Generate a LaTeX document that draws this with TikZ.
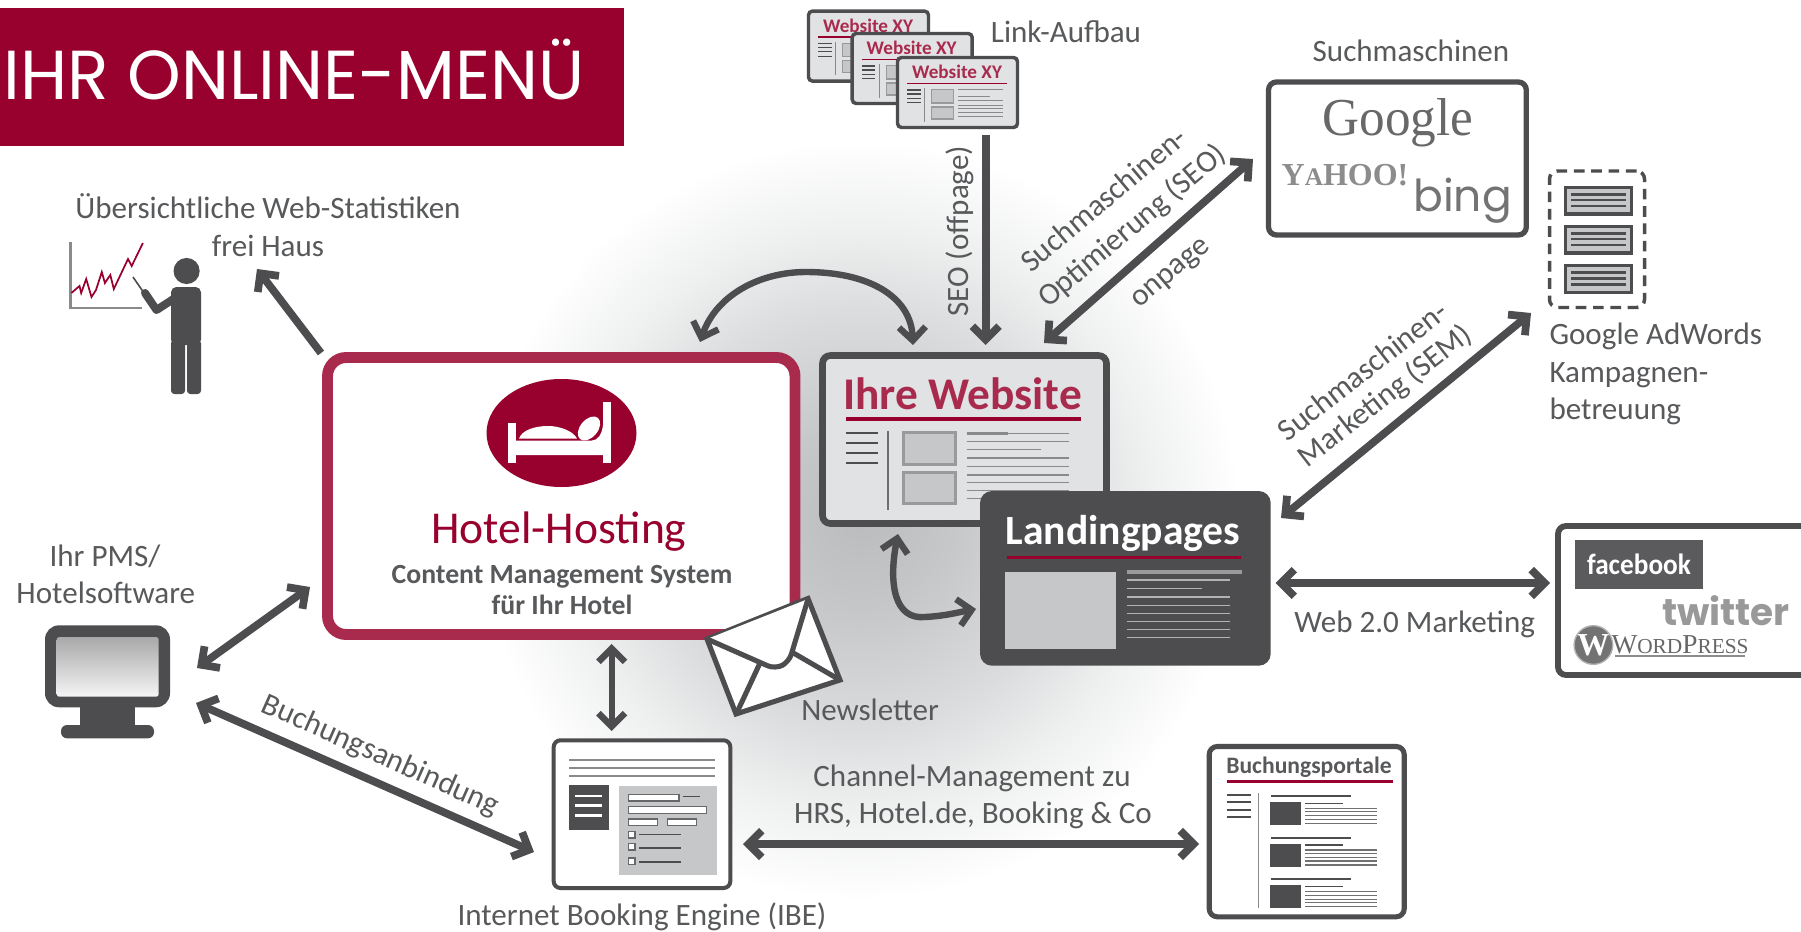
\documentclass[tikz,border=0pt]{standalone}
\usepackage{fontspec}
\setmainfont{Carlito}
\newfontfamily\serifx{Liberation Serif}
\newfontfamily\popp{Poppins}
\usetikzlibrary{arrows.meta,shapes.geometric}
\definecolor{dark}{HTML}{4D4D4F}
\definecolor{txt}{HTML}{58595B}
\definecolor{wine}{HTML}{98002E}
\definecolor{rasp}{HTML}{A82B4E}
\definecolor{paper}{HTML}{E1E2E4}
\definecolor{block}{HTML}{C6C7C9}
\definecolor{blockb}{HTML}{9A9A9C}
\definecolor{ruleg}{HTML}{8A8A8C}
\definecolor{sh0}{HTML}{BBBCBE}
\definecolor{sh1}{HTML}{C6C7C9}
\definecolor{sh2}{HTML}{DCDDDE}
\definecolor{sh3}{HTML}{EEEFEF}
\pgfdeclareradialshading{glow}{\pgfpoint{0bp}{0bp}}{color(0bp)=(sh0); color(6bp)=(sh1); color(14bp)=(sh2); color(19bp)=(sh3); color(25bp)=(white); color(50bp)=(white)}
\newcommand\lbl{\fontsize{23.3}{27}\selectfont}
\newcommand\pxbox[6]{\node[#2,inner sep=0pt,outer sep=0pt,minimum width={((#5)-(#3))*0.75pt},minimum height={((#6)-(#4))*0.75pt},anchor=north west] (#1) at (#3,#4) {};}
\newcommand\hl[4]{\draw[#4] (#1,#3) -- (#2,#3);}
\tikzset{
  lab/.style={text=txt,font=\lbl,anchor=base,inner sep=0pt,outer sep=0pt,yshift=-0.9pt},
  barb/.tip={Straight Barb[length=10pt,width=20pt]},
  arw/.style={draw=dark,line width=5.8pt,miter limit=10},
  arwthin/.style={draw=dark,line width=4.8pt},
}
% one small "Website XY" card, placed by its offset from the front card
\newcommand\webcard[3]{%
\begin{scope}[shift={(#2,#3)}]
\pxbox{#1}{draw=dark,fill=paper,line width=2.6pt,rounded corners=3pt}{897.5}{57.5}{1017.5}{127.5}
\node[text=rasp,font=\fontsize{14.4}{18}\selectfont\bfseries,anchor=base,inner sep=0pt] (#1t) at (957,79) {Website XY};
\hl{907}{1007}{83.3}{wine,line width=1.1pt}
\foreach \yy in {90,94,98.3,102.7}{\hl{907.3}{920.7}{\yy}{dark,line width=0.9pt}}
\draw[ruleg,line width=0.8pt] (924.7,88.3) -- (924.7,121.7);
\draw[blockb,fill=block,line width=0.8pt] (931.5,89.8) rectangle (953.5,103);
\draw[blockb,fill=block,line width=0.8pt] (931.5,107) rectangle (953.5,119);
\foreach \yy in {89.3,100.7,105,108.3,112.7,116.7}{\hl{958.3}{1002.7}{\yy}{ruleg,line width=0.6pt}}
\hl{958.3}{990}{96.7}{ruleg,line width=0.6pt}
\end{scope}}
\begin{document}
\begin{tikzpicture}[x=0.75pt,y=-0.75pt]
\useasboundingbox (0,0) rectangle (1801,931);
\fill[white] (0,0) rectangle (1801,931);
\clip (0,0) rectangle (1801,931);
% glow
\shade[shading=glow] (860,520) circle[radius=285pt];
% title
\fill[wine] (0,8) rectangle (624,146);
\node[text=white,font=\popp\fontsize{52}{60}\selectfont,xscale=0.985,anchor=base,inner sep=0pt] (title) at (294,99) {IHR ONLINE-MENÜ};
% statistics figure
\node[lab] (statsA) at (268,217) {Übersichtliche Web-Statistiken};
\node[lab] (statsB) at (268,255) {frei Haus};
\draw[ruleg,line width=1.6pt] (70.5,242) -- (70.5,308) -- (142,308);
\draw[wine,line width=1.3pt] (71.4,293)--(79.5,286)--(81.2,293)--(86.2,279)--(91.5,297)--(96,290)--(101.8,272)--(104.9,283)--(110.3,275)--(113.8,289)--(128,259)--(131.7,266)--(142.9,243);
\fill[dark] (186.6,271) circle[radius=9.8pt];
\fill[dark,rounded corners=4pt] (171,345) -- (171,287) -- (201,287) -- (201,345) -- cycle;
\fill[dark,rounded corners=2.5pt] (171,340) rectangle (185,394);
\fill[dark,rounded corners=2.5pt] (187,340) rectangle (201,394);
\draw[dark,line width=6pt,line join=round,line cap=round] (175,298) -- (156.5,310) -- (145,293);
\draw[dark,line width=1.2pt] (144,293) -- (133,277);
\coordinate (statsEnd) at (257,269);
\coordinate (hotelNW) at (321,353);
\draw[arw,-{barb}] (hotelNW) -- (statsEnd);
% Link-Aufbau
\node[lab] (linkA) at (1066,41.7) {Link-Aufbau};
\webcard{cardA}{-89}{-46.4}
\webcard{cardB}{-45.3}{-24}
\webcard{cardC}{0}{0}
% Suchmaschinen
\node[lab] (smTitle) at (1411,60) {Suchmaschinen};
\pxbox{search}{draw=dark,fill=white,line width=4pt,rounded corners=6pt}{1268.5}{82}{1526.3}{235}
\node[text=dark!85,font=\serifx\fontsize{40}{44}\selectfont,xscale=0.96,anchor=base,inner sep=0pt] (google) at (1398,135) {Google};
\node[text=black!45,font=\serifx\bfseries\fontsize{24}{28}\selectfont,anchor=base,inner sep=0pt] (yahoo) at (1345,185) {Y{\fontsize{19}{22}\selectfont A}HOO!};
\node[text=black!55,font=\popp\fontsize{33}{36}\selectfont,anchor=base,inner sep=0pt] (bing) at (1462.5,211) {bing};
% AdWords
\pxbox{adwords}{draw=dark,line width=2.6pt,dash pattern=on 8pt off 5pt,rounded corners=6pt}{1549.5}{171}{1644.5}{307.5}
\foreach \yy in {186,225,264.3}{
  \draw[dark,fill=block,line width=2.4pt] (1565.5,\yy+1.5) rectangle (1631.3,\yy+28);
  \foreach \dd in {8.3,14,20}{\draw[dark,line width=1.8pt] (1571,\yy+\dd) -- (1626.4,\yy+\dd);}
}
\node[lab,anchor=base west] (adA) at (1549.5,343) {Google AdWords};
\node[lab,anchor=base west] (adB) at (1549.5,381.7) {Kampagnen-};
\node[lab,anchor=base west] (adC) at (1549.5,418) {betreuung};
% Ihre Website
\pxbox{site}{draw=dark,fill=paper,line width=5pt,rounded corners=6pt}{822.5}{355.5}{1106.5}{523.5}
\node[text=rasp,font=\fontsize{34}{40}\selectfont\bfseries,anchor=base,inner sep=0pt] (siteT) at (962.5,409) {Ihre Website};
\hl{846}{1081}{419}{wine,line width=2.6pt}
\foreach \yy in {433,443,453,463}{\hl{846}{877.7}{\yy}{dark,line width=2.2pt}}
\draw[ruleg!80!black,line width=1.6pt] (888,431) -- (888,510);
\draw[blockb,fill=block,line width=2.2pt] (903.2,432.5) rectangle (955.2,464.5);
\draw[blockb,fill=block,line width=2.2pt] (903.2,472.2) rectangle (955.2,503.5);
\foreach \yy in {433.3,441.3,458,466.7,475,482.7,490.7,498.3}{\hl{966.7}{1069}{\yy}{ruleg,line width=1pt}}
\hl{966.7}{1040.7}{449.7}{ruleg,line width=1pt}
\hl{966.7}{1008}{433.3}{ruleg,line width=2.4pt}
% Landingpages
\pxbox{landing}{fill=dark,rounded corners=9pt}{980}{491}{1270.7}{665.7}
\node[text=white,font=\fontsize{31.2}{38}\selectfont\bfseries,anchor=base,inner sep=0pt] (landingT) at (1123,544.5) {Landingpages};
\hl{1007}{1241}{557.7}{wine,line width=2.6pt}
\fill[block] (1005,572) rectangle (1116,649);
\hl{1127}{1241.7}{572}{blockb,line width=2.4pt}
\foreach \yy in {580,597,605.3,613.7,621.7,629.3,637.3}{\hl{1127}{1230}{\yy}{black!30,line width=1pt}}
\hl{1127}{1201.7}{588.7}{black!30,line width=1pt}
% Hotel box
\pxbox{hotel}{draw=rasp,fill=white,line width=8.2pt,rounded corners=14pt}{327.5}{357.5}{795}{634.5}
\fill[wine] (561.5,433) ellipse[x radius=56.25pt,y radius=40.5pt];
\fill[white] (508,423) rectangle (516,463);
\fill[white] (603,402) rectangle (611,463);
\fill[white] (516,440.5) -- (592,440.5) .. controls (598,440.5) and (602,434) .. (603,425) -- (603,455) -- (516,455) -- cycle;
\fill[white] (519,438.5) .. controls (522,430) and (535,426) .. (548,426) .. controls (560,426) and (573,431) .. (577,438.5) -- cycle;
\fill[white,rotate around={50:(589,428.5)}] (589,428.5) ellipse[x radius=10.4pt,y radius=6.6pt];
\node[text=wine,font=\fontsize{34.2}{38}\selectfont,anchor=base,inner sep=0pt] (hotelT) at (559,543) {Hotel-Hosting};
\node[text=txt,font=\fontsize{20.8}{24}\selectfont\bfseries,anchor=base,inner sep=0pt] (hotelA) at (562,583) {Content Management System};
\node[text=txt,font=\fontsize{20.8}{24}\selectfont\bfseries,anchor=base,inner sep=0pt] (hotelB) at (562,614) {für Ihr Hotel};
% Social box
\pxbox{social}{draw=dark,fill=white,line width=4.4pt,rounded corners=6pt}{1558}{526}{1830}{675}
\node[fill=dark!92,minimum width=96pt,minimum height=36.75pt,inner sep=0pt,anchor=north west] (fbbox) at (1575,540) {};
\node[text=white,font=\fontsize{22}{26}\selectfont\bfseries,xscale=0.93,anchor=base,inner sep=0pt] (fb) at (1639,574) {facebook};
\node[text=black!40,font=\popp\bfseries\fontsize{28}{32}\selectfont,anchor=base,inner sep=0pt] (tw) at (1726,625) {twitter};
\node[circle,fill=black!55,draw=black!30,line width=1pt,minimum size=29pt,inner sep=0pt,text=white,font=\serifx\bfseries\fontsize{24}{26}\selectfont] (wpW) at (1593.4,645) {W};
\node[text=black!60,font=\serifx\fontsize{20.5}{24}\selectfont,anchor=base,inner sep=0pt] (wp) at (1680,653) {W{\fontsize{16}{20}\selectfont ORD}P{\fontsize{16}{20}\selectfont RESS}};
\hl{1615}{1744.5}{656}{black!45,line width=1pt}
\node[lab] (web2) at (1414.6,631.7) {Web 2.0 Marketing};
% Newsletter
\node[lab] (news) at (870,719) {Newsletter};
\draw[dark,fill=white,line width=3.8pt,line join=miter] (707,639) -- (808,598.5) -- (840,680) -- (736,714) -- cycle;
\draw[dark,line width=3.8pt,line join=round,fill=white,rounded corners=6pt] (707,639) -- (775,669) -- (789,662) -- (808,599);
\draw[dark,line width=3.8pt] (736.7,713) -- (760,663);
\draw[dark,line width=3.8pt] (791.7,652) -- (840,680);
% IBE
\pxbox{ibe}{draw=dark,fill=white,line width=3pt,rounded corners=5pt}{553.7}{740.3}{730.3}{888}
\foreach \yy in {759.7,767.7,775.7}{\hl{569.3}{715}{\yy}{ruleg,line width=1.2pt}}
\fill[dark] (569.3,785) rectangle (609.3,829.7);
\foreach \yy in {796,805.7,815.7}{\hl{575}{601.7}{\yy}{white,line width=2.2pt}}
\fill[block] (619,786) rectangle (717.3,875);
\tikzset{inp/.style={draw=dark!85,fill=white,line width=0.8pt}}
\draw[inp] (628.3,794.3) rectangle (679,801);
\hl{682.7}{700}{796.7}{dark,line width=1pt}
\draw[inp] (628.3,806.7) rectangle (706.7,813.3);
\draw[inp] (628.3,819) rectangle (657.3,825.7);
\draw[inp] (667.3,819) rectangle (696.7,825.7);
\draw[inp] (628.3,831.3) rectangle (635,838);
\draw[inp] (628.3,843.3) rectangle (635,850);
\draw[inp] (628.3,858) rectangle (635,864.7);
\foreach \yy in {834.3,848,862}{\hl{639.3}{680.7}{\yy}{dark,line width=1.1pt}}
\node[lab] (ibeT) at (642,924) {Internet Booking Engine (IBE)};
% Buchungsportale
\pxbox{portal}{draw=dark,fill=white,line width=3.8pt,rounded corners=6pt}{1209.2}{746.5}{1404.2}{916.8}
\node[text=txt,font=\fontsize{17.7}{20}\selectfont\bfseries,anchor=base,inner sep=0pt] (portalT) at (1309,773) {Buchungsportale};
\hl{1226.7}{1392.7}{781.7}{wine,line width=1.9pt}
\foreach \yy in {795,802.3,810,817.3}{\hl{1226.7}{1251}{\yy}{dark,line width=1.7pt}}
\draw[ruleg,line width=1.2pt] (1258.3,793) -- (1258.3,908);
\foreach \dy in {0,41.7,83.4}{
  \draw[dark,line width=1.6pt] (1270.7,796+\dy) -- (1351.3,796+\dy);
  \fill[dark] (1270,802+\dy) rectangle (1301.3,825+\dy);
  \draw[dark,line width=1pt] (1305,803.3+\dy) -- (1342.7,803.3+\dy);
  \foreach \yy in {808.3,811.7,815.7,819.3,823.3}{\draw[dark!80,line width=0.8pt] (1305,\yy+\dy) -- (1377.3,\yy+\dy);}
}
% Monitor
\pxbox{monitor}{fill=dark,rounded corners=10.5pt}{45}{625.3}{170}{707.3}
\fill[dark] (80,705) rectangle (135,727);
\fill[dark,rounded corners=4.5pt] (61,725) rectangle (154,738.3);
\node[top color=black!34,bottom color=black!4,rounded corners=2pt,inner sep=0pt,outer sep=0pt,minimum width=76.5pt,minimum height=44.8pt,anchor=north west] (screen) at (56.7,637) {};
\node[lab] (pmsA) at (105,565) {Ihr PMS/};
\node[lab] (pmsB) at (105.8,602.7) {Hotelsoftware};
% connectors
\coordinate (siteTop) at (913,345);
\coordinate (hotelTop) at (700,342);
\draw[arwthin,{barb}-{barb}] (hotelTop) .. controls (716,295) and (760,272) .. (806,272) .. controls (868,272) and (911,296) .. (siteTop);
\coordinate (cardsBottom) at (985.7,135);
\coordinate (siteTopB) at (985.7,345);
\draw[arw,-{barb}] (cardsBottom) -- (siteTopB);
\coordinate (siteTopC) at (1044,343);
\coordinate (searchLeft) at (1253,159);
\draw[arw,{barb}-{barb}] (siteTopC) -- (searchLeft);
\coordinate (landingNE) at (1281,518);
\coordinate (adBottom) at (1531,313);
\draw[arw,{barb}-{barb}] (landingNE) -- (adBottom);
\coordinate (landingRight) at (1275.5,583);
\coordinate (socialLeft) at (1550,583);
\draw[arw,{barb}-{barb}] (landingRight) -- (socialLeft);
\coordinate (siteBottom) at (898,534);
\coordinate (landingLeft) at (976,609);
\draw[arwthin,{barb}-{barb}] (siteBottom) .. controls (888,585) and (895,620) .. (925,617) .. controls (945,616) and (960,612) .. (landingLeft);
\coordinate (hotelBottom) at (611.7,644);
\coordinate (ibeTop) at (611.7,731);
\draw[arwthin,{barb}-{barb}] (hotelBottom) -- (ibeTop);
\coordinate (monA) at (197,668);
\coordinate (hotelLeft) at (310,587);
\draw[arw,{barb}-{barb}] (monA) -- (hotelLeft);
\coordinate (monB) at (196,703);
\coordinate (ibeLeft) at (534,852);
\draw[arw,{barb}-{barb}] (monB) -- (ibeLeft);
\coordinate (ibeRight) at (743,844);
\coordinate (portalLeft) at (1199,844);
\draw[arw,{barb}-{barb}] (ibeRight) -- (portalLeft);
% connector labels
\node[lab,rotate=90,yshift=0.9pt] (seoOff) at (970,230) {SEO (offpage)};
\node[lab,rotate=40] (seoA) at (1110,206) {Suchmaschinen-};
\node[lab,rotate=40] (seoB) at (1138,232) {Optimierung (SEO)};
\node[lab,rotate=40] (seoC) at (1175,277) {onpage};
\node[lab,rotate=38] (semA) at (1369,378) {Suchmaschinen-};
\node[lab,rotate=38] (semB) at (1391,402) {Marketing (SEM)};
\node[lab,rotate=-24] (bAnb) at (377,762) {Buchungsanbindung};
\node[lab] (chanA) at (972,785) {Channel-Management zu};
\node[lab] (chanB) at (973,822) {HRS, Hotel.de, Booking \& Co};
\end{tikzpicture}
\end{document}
